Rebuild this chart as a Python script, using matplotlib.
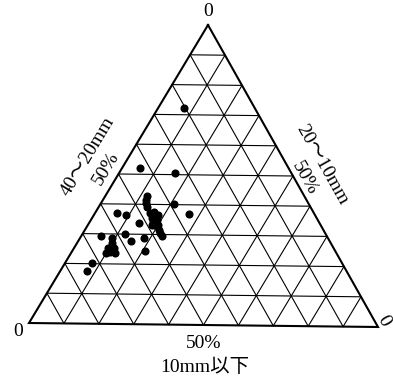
import numpy as np
import matplotlib
matplotlib.use("Agg")
import matplotlib.pyplot as plt

plt.rcParams['font.family'] = ['Liberation Serif', 'Noto Sans CJK JP']

# grain size fractions (%) of each sample
coarse_40_20 = [20.3, 42.8, 33.7, 39.0, 36.1, 45.4, 46.8, 47.3, 56.6, 54.6,
                47.3, 47.6, 46.4, 46.3, 47.7, 46.8, 52.2, 47.3, 47.6, 65.0,
                62.3, 57.8, 57.4, 53.0, 54.8, 63.8, 65.1, 63.8, 66.4, 63.9,
                72.2, 74.9, 46.2, 47.8, 47.6, 65.0, 45.9, 45.3, 48.6, 47.3,
                63.1, 63.3]
medium_20_10 = [72.4, 52.0, 50.5, 40.2, 37.2, 42.8, 40.3, 39.0, 37.1, 36.4,
                37.0, 35.4, 35.9, 34.8, 34.2, 33.2, 33.7, 31.5, 29.5, 29.0,
                28.7, 29.9, 27.7, 28.9, 24.4, 25.7, 24.1, 24.7, 23.7, 23.6,
                20.1, 17.7, 41.6, 33.1, 30.5, 25.3, 37.5, 36.5, 33.1, 32.8,
                27.0, 25.3]
fine_below_10 = [7.4, 5.2, 15.9, 20.8, 26.8, 11.8, 12.8, 13.7, 6.3, 9.1,
                 15.7, 17.0, 17.7, 18.9, 18.1, 20.0, 14.2, 21.2, 22.9, 5.9,
                 9.0, 12.2, 14.9, 18.2, 20.8, 10.5, 10.9, 11.5, 9.9, 12.6,
                 7.7, 7.5, 12.2, 19.1, 21.9, 9.7, 16.6, 18.2, 18.3, 19.9,
                 9.9, 11.4]

# triangle corners in figure pixels
top = np.array([208.0, 25.0])
left = np.array([29.0, 323.0])
right = np.array([378.0, 327.0])


def to_xy(c, m, f):
    c, m, f = (np.asarray(v, dtype=float) / 100.0 for v in (c, m, f))
    x = c * left[0] + m * top[0] + f * right[0]
    y = c * left[1] + m * top[1] + f * right[1]
    return x, y


fig = plt.figure(figsize=(3.93, 3.82), dpi=100)
ax = fig.add_axes([0, 0, 1, 1])
ax.set_xlim(0, 393)
ax.set_ylim(382, 0)
ax.axis('off')

# 10 % grid
for k in range(10, 100, 10):
    r = 100 - k
    for a, b in [((k, r, 0), (k, 0, r)), ((r, k, 0), (0, k, r)), ((r, 0, k), (0, r, k))]:
        xa, ya = to_xy(*a)
        xb, yb = to_xy(*b)
        ax.plot([xa, xb], [ya, yb], color='black', lw=0.8)

ox, oy = to_xy([0, 100, 0, 0], [100, 0, 0, 100], [0, 0, 100, 0])
ax.plot(ox, oy, color='black', lw=1.5, solid_joinstyle='miter')

px, py = to_xy(coarse_40_20, medium_20_10, fine_below_10)
ax.scatter(px, py, s=34, color='black', zorder=3, linewidths=0)

fs = 14
ax.text(208, 12, '0', ha='center', va='center', fontsize=fs)
ax.text(18, 332, '0', ha='center', va='center', fontsize=fs)
ax.text(384, 321, '0', ha='center', va='center', fontsize=fs, rotation=-60)
ax.text(204, 344, '50%', ha='center', va='center', fontsize=fs)
ax.text(205, 367, '10mm以下', ha='center', va='center', fontsize=fs)
ax.text(88, 156, '40〜20mm', ha='center', va='center', fontsize=fs, rotation=59)
ax.text(106, 168, '50%', ha='center', va='center', fontsize=fs, rotation=59)
ax.text(322, 165, '20〜10mm', ha='center', va='center', fontsize=fs, rotation=-60.6)
ax.text(305, 178, '50%', ha='center', va='center', fontsize=fs, rotation=-60.6)

fig.savefig('out.png', dpi=100)
